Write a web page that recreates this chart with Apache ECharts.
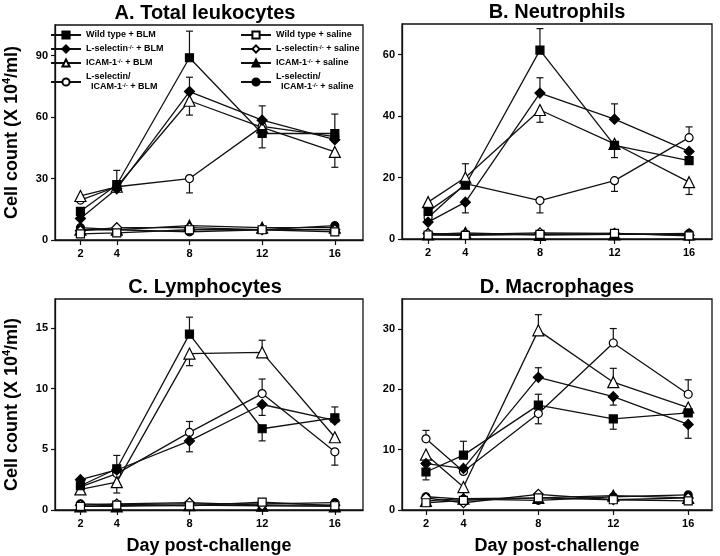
<!DOCTYPE html>
<html>
<head>
<meta charset="utf-8">
<script src="https://cdn.jsdelivr.net/npm/echarts@6/dist/echarts.min.js"></script>
<style>
    html, body { margin: 0; padding: 0; background: #fff; }
    #chart { width: 720px; height: 556px; }
</style>
</head>
<body>
<div id="chart"></div>
<script>
const days = [2, 4, 8, 12, 16]
const groups = [
    'Wild type + BLM', 'L-selectin + BLM', 'ICAM-1 + BLM', 'L-selectin/ICAM-1 + BLM',
    'Wild type + saline', 'L-selectin + saline', 'ICAM-1 + saline', 'L-selectin/ICAM-1 + saline'
]
const panelTitles = ['A. Total leukocytes', 'B. Neutrophils', 'C. Lymphocytes', 'D. Macrophages']

// rows follow the groups order
const leukocytes = [
    [14, 27, 89, 52, 52],
    [10.5, 25, 72.5, 58.5, 49],
    [21.5, 26, 68, 55, 43],
    [19.5, 26, 30, 55.5, 50.5],
    [3, 3.5, 5, 5, 4],
    [4.5, 6, 6, 5, 5],
    [5, 5, 7, 6, 6],
    [6, 5, 4, 5, 7]
]
const leukocytesErr = [
    [null, 34, 102, 45, 61.5],
    [null, null, 79.5, 65.5, null],
    [null, null, 61, null, 35.5],
    [null, null, 23, null, null],
    [null, null, null, null, null],
    [null, null, null, null, null],
    [null, null, null, null, null],
    [null, null, null, null, null]
]
const neutrophils = [
    [9, 17.5, 61.5, 30.5, 25.5],
    [5.5, 12, 47.5, 39, 28.5],
    [12, 20, 42, 31, 18.5],
    [7, 18, 12.5, 19, 33],
    [1.3, 1.2, 1.5, 1.8, 1],
    [1.8, 1.5, 2, 1.8, 1.2],
    [1.5, 2, 1.3, 1.5, 1.5],
    [1.5, 1.6, 1.5, 1.5, 1.8]
]
const neutrophilsErr = [
    [null, null, 68.5, null, null],
    [null, 8.5, 52.5, 44, null],
    [null, 24.5, 38, 26.5, 14.5],
    [null, null, 8.5, 15.5, 36.5],
    [null, null, null, null, null],
    [null, null, null, null, null],
    [null, null, null, null, null],
    [null, null, null, null, null]
]
const lymphocytes = [
    [2, 3.4, 14.5, 6.7, 7.6],
    [2.5, 3.3, 5.7, 8.7, 7.4],
    [1.7, 2.3, 12.9, 13, 6],
    [1.9, 3, 6.4, 9.6, 4.8],
    [0.3, 0.4, 0.35, 0.65, 0.35],
    [0.4, 0.5, 0.6, 0.4, 0.4],
    [0.3, 0.3, 0.4, 0.35, 0.3],
    [0.5, 0.45, 0.5, 0.5, 0.6]
]
const lymphocytesErr = [
    [null, 4.5, 15.9, 5.7, 8.5],
    [null, null, 4.8, 7.8, null],
    [null, 1.4, 11.9, 14, null],
    [null, null, 7.3, 10.8, 3.7],
    [null, null, null, null, null],
    [null, null, null, null, null],
    [null, null, null, null, null],
    [null, null, null, null, null]
]
const macrophages = [
    [6.3, 9.1, 17.4, 15.1, 16.1],
    [7.7, 6.9, 22, 18.8, 14.2],
    [9.2, 3.8, 29.8, 21.2, 17],
    [11.8, 6.4, 16, 27.7, 19.2],
    [1.2, 1.6, 2, 1.7, 1.5],
    [2, 1.2, 2.6, 1.7, 2],
    [1.5, 1.9, 2, 2.4, 2],
    [2.2, 1.8, 1.6, 2.2, 2.5]
]
const macrophagesErr = [
    [5, 11.4, 19.2, 13.4, null],
    [null, null, 23.6, 17.4, 11.9],
    [null, null, 32.4, 23.5, null],
    [13.2, null, 14.3, 30.1, 21.6],
    [null, null, null, null, null],
    [null, null, null, null, null],
    [null, null, null, null, null],
    [null, null, null, null, null]
]
const yTicks = [[0, 30, 60, 90], [0, 20, 40, 60], [0, 5, 10, 15], [0, 10, 20, 30]]

const panelValues = [leukocytes, neutrophils, lymphocytes, macrophages]
const panelErrors = [leukocytesErr, neutrophilsErr, lymphocytesErr, macrophagesErr]

// 显示用的图例文字（带上标）
const legendLabels = {
    'Wild type + BLM': 'Wild type + BLM',
    'L-selectin + BLM': 'L-selectin{sup|-/-} + BLM',
    'ICAM-1 + BLM': 'ICAM-1{sup|-/-} + BLM',
    'L-selectin/ICAM-1 + BLM': 'L-selectin/\n  ICAM-1{sup|-/-} + BLM',
    'Wild type + saline': 'Wild type + saline',
    'L-selectin + saline': 'L-selectin{sup|-/-} + saline',
    'ICAM-1 + saline': 'ICAM-1{sup|-/-} + saline',
    'L-selectin/ICAM-1 + saline': 'L-selectin/\n  ICAM-1{sup|-/-} + saline'
}
const symbols = ['rect', 'diamond', 'triangle', 'circle', 'rect', 'diamond', 'triangle', 'circle']
const symbolSizes = [8, 10, 11, 8, 8, 10, 11, 8]
const filled = [true, true, false, false, false, false, true, true]

const FONT = '"Liberation Sans", Arial, sans-serif'
const INK = '#111'

// 面板位置
const grids = [
    { left: 47, top: 25, width: 316, height: 215 },
    { left: 402, top: 24, width: 310, height: 215 },
    { left: 47, top: 299, width: 316, height: 214 },
    { left: 402, top: 299, width: 310, height: 214 }
]
const xRanges = [[0.6, 17.55], [0.6, 17.23], [0.6, 17.55], [0.72, 17.27]]
const yMax = [105, 70, 17.4, 35]

const chart = echarts.init(document.getElementById('chart'))

const option = {
    animation: false,
    grid: grids.map(g => ({ ...g, show: true, borderColor: INK, borderWidth: 1.3, backgroundColor: 'transparent' })),
    xAxis: grids.map((g, i) => ({
        type: 'value',
        gridIndex: i,
        min: xRanges[i][0],
        max: xRanges[i][1],
        splitLine: { show: false },
        axisLine: { show: true, lineStyle: { color: INK, width: 1.3 } },
        axisTick: { show: true, length: 5, customValues: days, lineStyle: { color: INK, width: 1.2 } },
        axisLabel: { customValues: days, margin: 8, fontSize: 11, fontWeight: 'bold', fontFamily: FONT, color: '#000' },
        name: i >= 2 ? 'Day post-challenge' : '',
        nameLocation: 'middle',
        nameGap: 27,
        nameTextStyle: { fontSize: 18, fontWeight: 'bold', fontFamily: FONT, color: '#000' }
    })),
    yAxis: grids.map((g, i) => ({
        type: 'value',
        gridIndex: i,
        min: 0,
        max: yMax[i],
        splitLine: { show: false },
        axisLine: { show: true, lineStyle: { color: INK, width: 1.3 } },
        axisTick: { show: true, length: 4, customValues: yTicks[i], lineStyle: { color: INK, width: 1.2 } },
        axisLabel: { customValues: yTicks[i], margin: 7, fontSize: 11, fontWeight: 'bold', fontFamily: FONT, color: '#000' },
        name: i % 2 === 0 ? 'Cell count (X 10{sup|4}/ml)' : '',
        nameLocation: 'middle',
        nameGap: 32,
        nameTextStyle: {
            fontSize: 18, fontWeight: 'bold', fontFamily: FONT, color: '#000',
            rich: { sup: { fontSize: 11, fontWeight: 'bold', fontFamily: FONT, color: '#000', verticalAlign: 'top', lineHeight: 22 } }
        }
    })),
    legend: [
        { data: groups.slice(0, 4), left: 50 },
        { data: groups.slice(4), left: 240 }
    ].map(l => ({
        ...l,
        top: 30,
        padding: 0,
        orient: 'vertical',
        selectedMode: false,
        itemWidth: 30,
        itemHeight: 9,
        itemGap: 4,
        formatter: name => legendLabels[name],
        textStyle: {
            fontSize: 9, fontWeight: 'bold', fontFamily: FONT, color: '#000', lineHeight: 10,
            rich: { sup: { fontSize: 6, fontWeight: 'bold', fontFamily: FONT, color: '#000', verticalAlign: 'top', lineHeight: 10 } }
        }
    })),
    graphic: grids.map((g, i) => ({
        type: 'text',
        x: g.left + g.width / 2,
        y: g.top - 12,
        style: {
            text: panelTitles[i],
            textAlign: 'center',
            textVerticalAlign: 'middle',
            fontSize: 20,
            fontWeight: 'bold',
            fontFamily: FONT,
            fill: '#000'
        }
    })),
    series: []
}

// 误差线
const errorBar = (params, api) => {
    const x = api.value(0)
    const p0 = api.coord([x, api.value(1)])
    const p1 = api.coord([x, api.value(2)])
    const w = 3.5
    const style = { stroke: INK, lineWidth: 1.2 }
    return {
        type: 'group',
        children: [
            { type: 'line', shape: { x1: p0[0], y1: p0[1], x2: p1[0], y2: p1[1] }, style },
            { type: 'line', shape: { x1: p1[0] - w, y1: p1[1], x2: p1[0] + w, y2: p1[1] }, style }
        ]
    }
}

panelValues.forEach((vals, p) => {
    const bars = []
    panelErrors[p].forEach((errs, g) => {
        errs.forEach((e, k) => {
            if (e !== null) bars.push([days[k], vals[g][k], e])
        })
    })
    option.series.push({
        type: 'custom',
        xAxisIndex: p,
        yAxisIndex: p,
        renderItem: errorBar,
        encode: { x: 0, y: [1, 2] },
        data: bars,
        z: 1,
        silent: true
    })
    // saline 在下，BLM 在上
    for (let g = groups.length - 1; g >= 0; g--) {
        option.series.push({
            type: 'line',
            name: groups[g],
            xAxisIndex: p,
            yAxisIndex: p,
            data: days.map((d, k) => [d, vals[g][k]]),
            symbol: symbols[g],
            symbolSize: symbolSizes[g],
            showAllSymbol: true,
            lineStyle: { color: INK, width: 1.3 },
            itemStyle: { color: filled[g] ? '#000' : '#fff', borderColor: '#000', borderWidth: 1.2 },
            emphasis: { disabled: true },
            z: 3
        })
    }
})

chart.setOption(option)
</script>
</body>
</html>
